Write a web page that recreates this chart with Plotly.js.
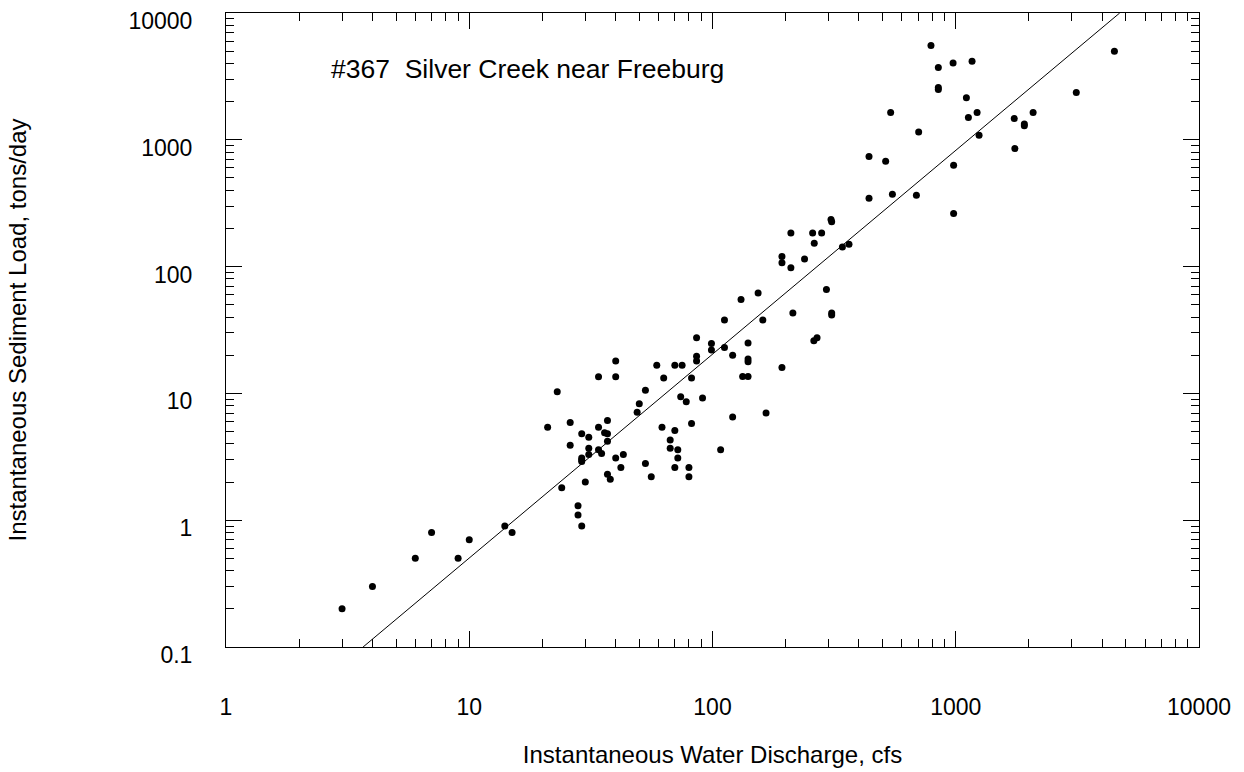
<!DOCTYPE html>
<html>
<head>
<meta charset="utf-8">
<script src="https://cdn.plot.ly/plotly-3.0.1.min.js"></script>
<style>html,body{margin:0;padding:0;background:#fff;}#chart{width:1244px;height:772px;}</style>
</head>
<body>
<div id="chart"></div>
<script>
// Observed samples: water discharge (cfs) and sediment load (tons/day)
const discharge = [
  3, 4, 6, 7, 9, 10, 14, 15,
  21, 23, 24, 26, 26, 28, 28, 29, 29, 29, 29, 29, 30, 31, 31, 31,
  34, 34, 34, 35, 36, 37, 37, 37, 37, 38, 40, 40, 40, 42, 43,
  49, 50, 53, 53, 56, 59, 62, 63, 67, 67, 70, 70, 70, 72, 72,
  74, 75, 78, 80, 80, 82, 82, 86, 86, 86, 91, 99, 99,
  108, 112, 112, 121, 121, 131, 133, 140, 140, 140, 140, 154, 161, 166,
  193, 193, 193, 210, 210, 214, 239, 258, 261, 262, 269, 281, 294, 307, 309, 309, 309,
  342, 364, 440, 440, 515, 540, 549, 689, 704, 791, 848, 848, 848,
  975, 980, 980, 1106, 1127, 1167, 1224, 1247, 1740, 1750, 1914, 1914, 2080, 3130, 4490
];
const sediment = [
  0.2, 0.3, 0.5, 0.8, 0.5, 0.7, 0.9, 0.8,
  5.4, 10.3, 1.8, 5.9, 3.9, 1.3, 1.1, 4.8, 3.1, 3.0, 2.9, 0.9, 2.0, 4.5, 3.7, 3.3,
  5.4, 13.5, 3.6, 3.35, 4.9, 6.1, 4.8, 4.2, 2.3, 2.1, 18, 13.5, 3.1, 2.6, 3.3,
  7.1, 8.3, 10.6, 2.8, 2.2, 16.7, 5.4, 13.2, 4.3, 3.7, 5.1, 2.6, 16.7, 3.6, 3.1,
  9.4, 16.7, 8.6, 2.6, 2.2, 13.2, 5.8, 27.5, 19.6, 18, 9.2, 24.7, 22,
  3.6, 38, 23, 20, 6.5, 55, 13.6, 13.6, 25, 18.7, 17.8, 62, 38, 7.0,
  120, 107, 16, 98, 184, 43, 115, 184, 26, 153, 27.5, 184, 66, 235, 226, 43, 41.5,
  143, 150, 740, 346, 677, 1640, 372, 365, 1150, 5530, 3710, 2580, 2490,
  4030, 630, 262, 2150, 1500, 4160, 1640, 1085, 1470, 853, 1330, 1290, 1640, 2360, 4990
];
// Fitted rating curve end points
const fitDischarge = [3.66, 4720];
const fitSediment = [0.1, 10000];

const xTickVals = [1, 10, 100, 1000, 10000];
const xTickText = ['1', '10', '100', '1000', '10000'];
const yTickVals = [0.1, 1, 10, 100, 1000, 10000];
const yTickText = ['0.1', '1', '10', '100', '1000', '10000'];

function minorVals(lo, hi) {
  const v = [];
  for (let e = lo; e < hi; e++) for (let d = 2; d <= 9; d++) v.push(d * Math.pow(10, e));
  return v;
}

const font = 'Liberation Sans, Arial, sans-serif';

const traces = [
  {
    x: fitDischarge, y: fitSediment, type: 'scatter', mode: 'lines',
    line: {color: '#000', width: 1}, hoverinfo: 'skip'
  },
  {
    x: discharge, y: sediment, type: 'scatter', mode: 'markers',
    marker: {color: '#000', size: 7}
  }
];

const axisCommon = {
  type: 'log', showgrid: false, zeroline: false,
  showline: true, linecolor: '#000', linewidth: 1, mirror: 'allticks',
  ticks: 'inside', ticklen: 16, tickwidth: 1, tickcolor: '#000',
  tickmode: 'array', tickfont: {family: font, size: 23, color: '#000'}
};

const layout = {
  width: 1244, height: 772,
  margin: {l: 226, r: 45, t: 13, b: 125},
  paper_bgcolor: '#fff', plot_bgcolor: '#fff',
  showlegend: false,
  font: {family: font, color: '#000'},
  xaxis: Object.assign({}, axisCommon, {
    range: [0, 4], tickvals: xTickVals, ticktext: xTickText,
    ticklabelstandoff: 39,
    minor: {ticks: 'inside', ticklen: 8, tickwidth: 1, tickcolor: '#000', tickmode: 'array', tickvals: minorVals(0, 4)},
    title: {text: 'Instantaneous Water Discharge, cfs', font: {family: font, size: 24, color: '#000'}, standoff: 27}
  }),
  yaxis: Object.assign({}, axisCommon, {
    range: [-1, 4], tickvals: yTickVals, ticktext: yTickText,
    ticklabelstandoff: 28, ticklabelshift: 8,
    minor: {ticks: 'inside', ticklen: 8, tickwidth: 1, tickcolor: '#000', tickmode: 'array', tickvals: minorVals(-1, 4)},
    title: {text: 'Instantaneous Sediment Load, tons/day', font: {family: font, size: 24, color: '#000'}, standoff: 95}
  }),
  annotations: [{
    text: '#367 \u00a0Silver Creek near Freeburg',
    xref: 'paper', yref: 'paper', x: 0.106, y: 0.911,
    xanchor: 'left', yanchor: 'middle', showarrow: false,
    font: {family: font, size: 26.5, color: '#000'}
  }]
};

Plotly.newPlot('chart', traces, layout, {displayModeBar: false, staticPlot: true});
</script>
</body>
</html>
